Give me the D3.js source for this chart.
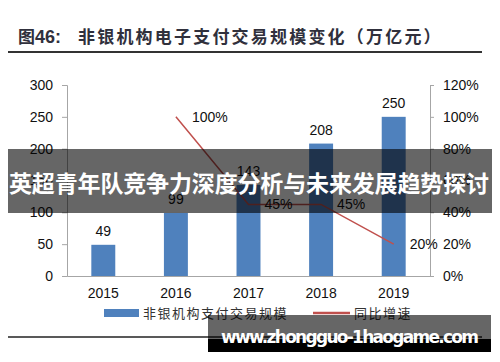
<!DOCTYPE html>
<html>
<head>
<meta charset="utf-8">
<script src="https://cdn.jsdelivr.net/npm/d3@7"></script>
<style>
  html, body { margin: 0; padding: 0; background: #fff; }
  svg { display: block; }
</style>
</head>
<body>
<svg width="500" height="362"></svg>
<script>
  var years = ['2015', '2016', '2017', '2018', '2019'];
  var volume = [49, 99, 143, 208, 250];
  var growth = [null, 100, 45, 45, 20];
  var leftTicks = [0, 50, 100, 150, 200, 250, 300];
  var rightTicks = [0, 20, 40, 60, 80, 100, 120];

  (function() {
    'use strict';

    var svg = d3.select('svg');
    var numFont = '"Liberation Sans", Arial, sans-serif';
    var cjkFont = '"Noto Sans CJK SC", sans-serif';

    var plotLeft = 67, plotRight = 430, plotTop = 85, plotBottom = 276;

    var x = d3.scaleBand().domain(years).range([plotLeft, plotRight])
      .paddingInner(0.67).paddingOuter(0.335);
    var yL = d3.scaleLinear().domain([0, 300]).range([plotBottom, plotTop]);
    var yR = d3.scaleLinear().domain([0, 120]).range([plotBottom, plotTop]);

    // title
    var title = svg.append('text')
      .attr('x', 18).attr('y', 43)
      .style('font-family', cjkFont)
      .style('font-size', '17px')
      .style('font-weight', 'bold')
      .attr('fill', '#30303c');
    title.append('tspan').text('图');
    title.append('tspan')
      .style('font-family', numFont).style('font-size', '18px')
      .text('46:');
    title.append('tspan')
      .attr('x', 78)
      .style('letter-spacing', '2.2px')
      .text('非银机构电子支付交易规模变化（万亿元）');

    svg.append('line')
      .attr('x1', 8).attr('x2', 482).attr('y1', 52).attr('y2', 52)
      .attr('stroke', '#333').attr('stroke-width', 2);

    // axes
    var axisLeft = svg.append('g')
      .attr('transform', 'translate(' + plotLeft + ',0)')
      .call(d3.axisLeft(yL).tickValues(leftTicks).tickSize(5).tickPadding(9));

    var axisRight = svg.append('g')
      .attr('transform', 'translate(' + plotRight + ',0)')
      .call(d3.axisRight(yR).tickValues(rightTicks).tickSize(4).tickPadding(9)
        .tickFormat(function(d) { return d + '%'; }));

    var axisBottom = svg.append('g')
      .attr('transform', 'translate(0,' + plotBottom + ')')
      .call(d3.axisBottom(x).tickSize(0).tickPadding(12));

    [axisLeft, axisRight, axisBottom].forEach(function(g) {
      g.selectAll('path, line').attr('stroke', '#a6a6a6');
      g.selectAll('text')
        .style('font-family', numFont)
        .style('font-size', '14px')
        .attr('fill', '#111');
    });

    // bars
    svg.selectAll('.bar')
      .data(volume)
      .enter().append('rect')
      .attr('class', 'bar')
      .attr('x', function(d, i) { return x(years[i]); })
      .attr('width', x.bandwidth())
      .attr('y', function(d) { return yL(d); })
      .attr('height', function(d) { return plotBottom - yL(d); })
      .attr('fill', '#4f81bd');

    svg.selectAll('.bar-label')
      .data(volume)
      .enter().append('text')
      .attr('class', 'bar-label')
      .attr('x', function(d, i) { return x(years[i]) + x.bandwidth() / 2; })
      .attr('y', function(d) { return yL(d) - 9; })
      .attr('text-anchor', 'middle')
      .style('font-family', numFont)
      .style('font-size', '14px')
      .attr('fill', '#111')
      .text(function(d) { return d; });

    // growth line
    var pts = growth.map(function(d, i) { return { year: years[i], v: d }; })
      .filter(function(d) { return d.v !== null; });

    var line = d3.line()
      .x(function(d) { return x(d.year) + x.bandwidth() / 2; })
      .y(function(d) { return yR(d.v); });

    svg.append('path')
      .datum(pts)
      .attr('d', line)
      .attr('fill', 'none')
      .attr('stroke', '#c0504d')
      .attr('stroke-width', 1.5);

    svg.selectAll('.line-label')
      .data(pts)
      .enter().append('text')
      .attr('class', 'line-label')
      .attr('x', function(d) { return x(d.year) + x.bandwidth() / 2 + 16; })
      .attr('y', function(d) { return yR(d.v) + 5; })
      .style('font-family', numFont)
      .style('font-size', '14px')
      .attr('fill', '#111')
      .text(function(d) { return d.v + '%'; });

    // legend
    svg.append('rect')
      .attr('x', 104).attr('y', 309).attr('width', 35).attr('height', 8)
      .attr('fill', '#4f81bd');
    svg.append('text')
      .attr('x', 143).attr('y', 318)
      .style('font-family', cjkFont).style('font-size', '13px')
      .style('letter-spacing', '1.5px')
      .attr('fill', '#333')
      .text('非银机构支付交易规模');
    svg.append('line')
      .attr('x1', 313).attr('x2', 350).attr('y1', 313).attr('y2', 313)
      .attr('stroke', '#c0504d').attr('stroke-width', 2.5);
    svg.append('text')
      .attr('x', 354).attr('y', 318)
      .style('font-family', cjkFont).style('font-size', '13px')
      .style('letter-spacing', '1.5px')
      .attr('fill', '#333')
      .text('同比增速');

    svg.append('line')
      .attr('x1', 8).attr('x2', 482).attr('y1', 337).attr('y2', 337)
      .attr('stroke', '#222').attr('stroke-width', 1.5);

    // overlay banner
    svg.append('rect')
      .attr('x', 8).attr('y', 149).attr('width', 484).attr('height', 64)
      .attr('fill', 'rgba(0,0,0,0.6)');
    svg.append('text')
      .attr('x', 9).attr('y', 192)
      .attr('textLength', 480)
      .style('font-family', cjkFont).style('font-size', '23px')
      .style('font-weight', 'bold')
      .attr('fill', '#fff')
      .text('英超青年队竞争力深度分析与未来发展趋势探讨');

    // watermark
    svg.append('rect')
      .attr('x', 208).attr('y', 315).attr('width', 283).attr('height', 24)
      .attr('fill', 'rgba(0,0,0,0.6)');
    svg.append('rect')
      .attr('x', 208).attr('y', 339).attr('width', 283).attr('height', 13)
      .attr('fill', '#000');
    svg.append('text')
      .attr('x', 221).attr('y', 343)
      .attr('textLength', 258)
      .style('font-family', '"DejaVu Sans", sans-serif').style('font-size', '17px')
      .style('font-weight', 'bold')
      .attr('fill', '#fff')
      .text('www.zhongguo-1haogame.com');
  })();
</script>
</body>
</html>
